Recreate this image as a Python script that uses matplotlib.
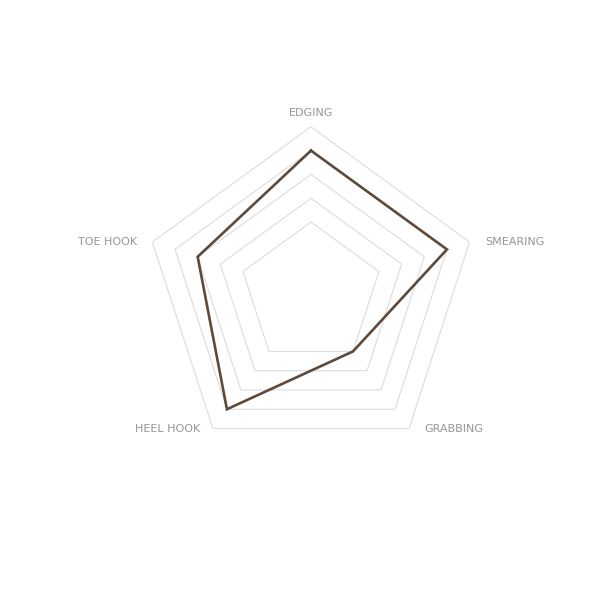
import numpy as np
import matplotlib
matplotlib.use("Agg")
import matplotlib.pyplot as plt

categories = ["EDGING", "SMEARING", "GRABBING", "HEEL HOOK", "TOE HOOK"]
values = [6, 6, 3, 6, 5]
grid_levels = [3, 4, 5, 6, 7]
r_max = 7

fig = plt.figure(figsize=(6, 6), dpi=100)
ax = fig.add_axes([0.2403, 0.2327, 0.556, 0.556], projection="polar")
ax.set_theta_zero_location("N")
ax.set_theta_direction(-1)
ax.set_ylim(0, r_max)
ax.grid(False)
ax.spines["polar"].set_visible(False)
ax.set_xticks([])
ax.set_yticks([])
ax.patch.set_alpha(0)

n = len(categories)
angles = np.linspace(0, 2 * np.pi, n, endpoint=False)
closed = np.concatenate([angles, angles[:1]])

for lv in grid_levels:
    ax.plot(closed, [lv] * (n + 1), color="#dcdcdc", lw=0.8, zorder=1)

vals = list(values) + [values[0]]
ax.plot(closed, vals, color="#5e4a3a", lw=1.9, zorder=3, solid_joinstyle="miter")

offsets = [((0, 10), "center", "center"),
           ((11, 0), "left", "center"),
           ((11, 0), "left", "center"),
           ((-9, 0), "right", "center"),
           ((-11, 0), "right", "center")]
for ang, lab, (off, ha, va) in zip(angles, categories, offsets):
    ax.annotate(lab, xy=(ang, r_max), xytext=off, textcoords="offset points",
                ha=ha, va=va, fontsize=8, color="#959595", family="DejaVu Sans",
                annotation_clip=False)

fig.savefig("out.png", dpi=100, facecolor="white")
